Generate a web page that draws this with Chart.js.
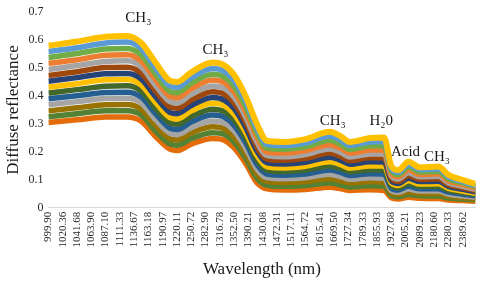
<!DOCTYPE html>
<html>
<head>
<meta charset="utf-8">
<script src="https://cdn.jsdelivr.net/npm/chart.js@4"></script>
<style>
  body { margin: 0; background: #fff; }
  #wrap { width: 480px; height: 286px; }
</style>
</head>
<body>
<div id="wrap"><canvas id="CHART"></canvas></div>
<script>
// DATA

// tick labels on the wavelength axis (one per category step)
const wavelengths = ["999.90", "1020.36", "1041.68", "1063.90", "1087.10", "1111.33", "1136.67", "1163.18",
    "1190.97", "1220.11", "1250.72", "1282.90", "1316.78", "1352.50", "1390.21", "1430.08", "1472.31",
    "1517.11", "1564.72", "1615.41", "1669.50", "1727.34", "1789.33", "1855.93", "1927.68", "2005.21",
    "2089.23", "2180.60", "2280.33", "2389.62"];

// where the readings sit along the axis (in label steps)
const positions = [0, 2, 4, 5.5, 6.5, 7.5, 8.5, 9, 10, 11.5, 12.3, 13, 13.8, 14.6, 15.3, 16.5, 18, 19.7, 20.5, 21.1, 22.5, 23.5, 24, 24.5, 25.2, 26, 27.3, 28, 29, 29.9];

// spectra, bottom to top
const spec01 = [.305, .315, .325, .325, .310, .255, .210, .205, .228, .248, .242, .215, .160, .090, .068, .064, .066, .074, .068, .062, .065, .062, .036, .032, .038, .034, .033, .028, .026, .024];
const spec02 = [.326, .337, .347, .347, .332, .275, .229, .224, .248, .269, .263, .235, .178, .106, .081, .077, .080, .089, .082, .075, .079, .077, .045, .040, .048, .043, .042, .035, .032, .029];
const spec03 = [.347, .358, .369, .370, .353, .296, .248, .243, .268, .290, .283, .255, .197, .122, .095, .091, .094, .105, .097, .089, .094, .091, .054, .048, .058, .051, .051, .042, .037, .033];
const spec04 = [.369, .380, .391, .392, .375, .316, .267, .262, .287, .311, .304, .275, .215, .139, .108, .104, .108, .120, .111, .102, .108, .106, .062, .056, .067, .060, .060, .049, .043, .038];
const spec05 = [.390, .401, .413, .414, .396, .337, .285, .280, .307, .332, .325, .295, .234, .155, .121, .117, .121, .135, .126, .116, .122, .121, .071, .064, .077, .068, .068, .056, .049, .043];
const spec06 = [.411, .423, .435, .437, .418, .357, .304, .299, .327, .353, .345, .315, .252, .171, .134, .130, .135, .150, .140, .129, .136, .135, .080, .072, .087, .077, .077, .063, .055, .048];
const spec07 = [.432, .444, .458, .459, .439, .377, .323, .318, .347, .374, .366, .335, .271, .187, .147, .143, .149, .165, .154, .142, .150, .150, .089, .080, .097, .085, .086, .070, .060, .052];
const spec08 = [.453, .466, .480, .481, .461, .398, .342, .337, .366, .395, .386, .355, .289, .203, .161, .157, .163, .181, .169, .156, .165, .164, .097, .087, .106, .094, .095, .077, .066, .057];
const spec09 = [.474, .487, .502, .503, .482, .418, .361, .356, .386, .415, .407, .375, .308, .219, .174, .170, .177, .196, .183, .169, .179, .179, .106, .095, .116, .102, .104, .083, .072, .062];
const spec10 = [.495, .509, .524, .526, .504, .438, .380, .375, .406, .436, .428, .395, .326, .235, .187, .183, .191, .211, .197, .182, .193, .194, .115, .103, .126, .111, .113, .090, .077, .066];
const spec11 = [.517, .530, .546, .548, .525, .459, .399, .394, .426, .457, .448, .415, .345, .252, .200, .196, .205, .226, .212, .196, .207, .208, .124, .111, .136, .119, .122, .097, .083, .071];
const spec12 = [.538, .552, .568, .570, .547, .479, .417, .412, .446, .478, .469, .435, .363, .268, .214, .210, .218, .242, .226, .209, .222, .223, .133, .119, .146, .128, .130, .104, .089, .076];
const spec13 = [.559, .573, .590, .593, .569, .500, .436, .431, .465, .499, .489, .455, .382, .284, .227, .223, .232, .257, .241, .223, .236, .237, .141, .127, .155, .137, .139, .111, .095, .080];
const spec14 = [.580, .595, .612, .615, .590, .520, .455, .450, .485, .520, .510, .475, .400, .300, .240, .236, .246, .272, .255, .236, .250, .252, .150, .135, .165, .145, .148, .118, .100, .085];

const spectra = [spec01, spec02, spec03, spec04, spec05, spec06, spec07, spec08, spec09, spec10, spec11, spec12, spec13, spec14];
const colors = ["#E46C0A", "#548235", "#997300", "#A5A5A5", "#255E91", "#43682B", "#FFC000",
    "#264478", "#9E480E", "#A5A5A5", "#ED7D31", "#70AD47", "#5B9BD5", "#FFC000"];

// peak labels: text, axis position, value
const peakText = ["CH₃", "CH₃", "CH₃", "H₂0", "Acid", "CH₃"];
const peakPos = [6.3, 11.7, 19.9, 23.3, 25.0, 27.2];
const peakVal = [0.68, 0.565, 0.31, 0.31, 0.20, 0.18];

// CHART CREATION

const serif = "'Liberation Serif', 'Times New Roman', serif";
Chart.defaults.font.family = serif;

const datasets = spectra.map((values, i) => ({
    label: "S" + (i + 1),
    data: values.map((v, j) => ({ x: positions[j], y: v })),
    borderColor: colors[i],
    borderWidth: i === spectra.length - 1 ? 6 : 5.5,
    pointRadius: 0,
    cubicInterpolationMode: "monotone",
    fill: false,
    order: spectra.length - i, // upper spectra drawn over lower ones
}));

// write the peak names onto the plot
const peakLabels = {
    id: "peakLabels",
    afterDatasetsDraw(chart) {
        const ctx = chart.ctx;
        const xs = chart.scales.x;
        const ys = chart.scales.y;
        ctx.save();
        ctx.font = "15px " + serif;
        ctx.fillStyle = "#1a1a1a";
        ctx.textAlign = "center";
        ctx.textBaseline = "middle";
        peakText.forEach((t, i) => {
            ctx.fillText(t, xs.getPixelForValue(peakPos[i]), ys.getPixelForValue(peakVal[i]));
        });
        ctx.restore();
    }
};

const chart = new Chart(document.getElementById("CHART"), {
    type: "line",
    data: { datasets: datasets },
    options: {
        responsive: true,
        maintainAspectRatio: false,
        animation: false,
        layout: { padding: { top: 10, right: 4, left: 3, bottom: 6 } },
        plugins: {
            legend: { display: false },
            tooltip: { enabled: false },
        },
        scales: {
            x: {
                type: "linear",
                min: 0,
                max: 29.9,
                grid: { display: true, color: "transparent", drawTicks: false },
                border: { display: true, color: "#D9D9D9", width: 1 },
                ticks: {
                    stepSize: 1,
                    includeBounds: false,
                    autoSkip: false,
                    minRotation: 90,
                    maxRotation: 90,
                    padding: 4,
                    color: "#262626",
                    font: { size: 11, family: serif },
                    callback: (v) => Number.isInteger(v) ? (wavelengths[v] || "") : "",
                },
                title: {
                    display: true,
                    text: "Wavelength (nm)",
                    color: "#1a1a1a",
                    font: { size: 17, family: serif },
                    padding: { top: 8, bottom: 0 },
                },
            },
            y: {
                min: 0,
                max: 0.7,
                grid: { display: false, drawTicks: false },
                border: { display: false },
                ticks: {
                    stepSize: 0.1,
                    padding: 5,
                    color: "#262626",
                    font: { size: 12, family: serif },
                },
                title: {
                    display: true,
                    text: "Diffuse reflectance",
                    color: "#1a1a1a",
                    font: { size: 17, family: serif },
                    padding: { top: 0, bottom: 0 },
                },
            },
        },
    },
    plugins: [peakLabels],
});
</script>
</body>
</html>
